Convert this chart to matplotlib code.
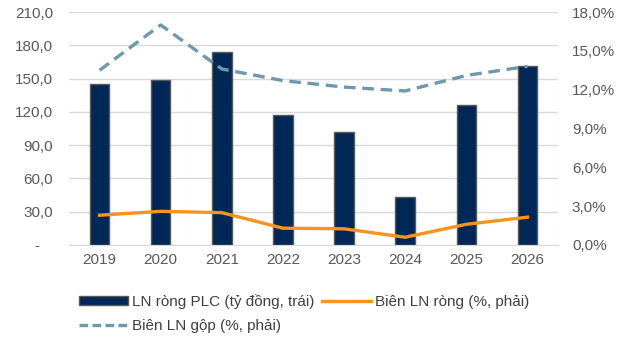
import matplotlib
matplotlib.use("Agg")
import matplotlib.pyplot as plt
from matplotlib.ticker import FuncFormatter
from matplotlib.patches import Patch
from matplotlib.lines import Line2D

years = ["2019", "2020", "2021", "2022", "2023", "2024", "2025", "2026"]
ln_rong = [145.0, 148.5, 174.0, 117.0, 101.5, 43.0, 126.0, 161.0]
bien_rong = [2.3, 2.6, 2.5, 1.3, 1.25, 0.6, 1.6, 2.15]
bien_gop = [13.5, 17.0, 13.6, 12.7, 12.2, 11.9, 13.1, 13.8]

plt.rcParams['font.family'] = ['Liberation Sans', 'DejaVu Sans']
txt = '#595959'
fs = 11

fig = plt.figure(figsize=(6.3, 3.42), dpi=100)
ax = fig.add_axes([69/630, 1-245/342, 489/630, 233/342])
ax2 = ax.twinx()

x = list(range(len(years)))
ax.bar(x, ln_rong, width=0.32, color='#002856', edgecolor='#595959', linewidth=1.0, zorder=2)
ax.set_ylim(0, 210)
ax.set_yticks([0, 30, 60, 90, 120, 150, 180, 210])
ax.yaxis.set_major_formatter(FuncFormatter(lambda v, p: '-   ' if v == 0 else f"{v:.1f}".replace('.', ',')))
ax.grid(axis='y', color='#d9d9d9', linewidth=1.0, zorder=0)
ax.set_axisbelow(True)
ax.set_xlim(-0.5, len(years)-0.5)
ax.set_xticks(x)
ax.set_xticklabels(years)

ax2.plot(x, bien_rong, color='#f7941d', linewidth=2.4, zorder=3)
ax2.plot(x, bien_gop, color='#6f98ae', linewidth=2.4, linestyle=(0, (3.5, 2)), zorder=3)
ax2.set_ylim(0, 18)
ax2.set_yticks([0, 3, 6, 9, 12, 15, 18])
ax2.yaxis.set_major_formatter(FuncFormatter(lambda v, p: f"{v:.1f}%".replace('.', ',')))

for a in (ax, ax2):
    for s in a.spines.values():
        s.set_visible(False)
    a.tick_params(length=0, labelsize=fs, colors=txt)
ax.spines['bottom'].set_visible(True)
ax.spines['bottom'].set_color('#d9d9d9')
ax.tick_params(axis='x', pad=6)
ax.tick_params(axis='y', pad=11.5)
ax2.tick_params(axis='y', pad=10)

h1 = Patch(facecolor='#002856', edgecolor='#595959', linewidth=1.0)
h2 = Line2D([], [], color='#f7941d', linewidth=2.4)
h3 = Line2D([], [], color='#6f98ae', linewidth=2.4, linestyle=(0, (2.6, 1.3)))
fig.legend([h1, h3, h2], ["LN ròng PLC (tỷ đồng, trái)", "Biên LN gộp (%, phải)", "Biên LN ròng (%, phải)"],
           loc='upper left', bbox_to_anchor=(79/630, 1-294/342), ncol=2, frameon=False,
           fontsize=fs, labelcolor='#404040',
           handlelength=3.2, handletextpad=0.26, columnspacing=0.5,
           labelspacing=0.65, handleheight=0.45, borderpad=0, borderaxespad=0)

fig.savefig("out.png", dpi=100)
